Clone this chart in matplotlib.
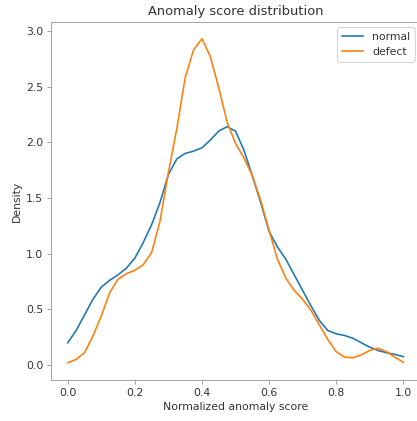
import matplotlib

matplotlib.use("Agg")
import matplotlib.pyplot as plt
import numpy as np

score = np.linspace(0.0, 1.0, 41)
normal = [
    0.20, 0.31, 0.45, 0.59, 0.70, 0.76, 0.81, 0.87, 0.96, 1.10,
    1.26, 1.46, 1.71, 1.85, 1.90, 1.92, 1.95, 2.02, 2.10, 2.14,
    2.10, 1.93, 1.70, 1.46, 1.20, 1.06, 0.95, 0.81, 0.67, 0.53,
    0.40, 0.31, 0.28, 0.265, 0.24, 0.20, 0.16, 0.13, 0.11, 0.095,
    0.075,
]
defect = [
    0.02, 0.05, 0.11, 0.26, 0.44, 0.65, 0.77, 0.82, 0.85, 0.90,
    1.01, 1.29, 1.73, 2.12, 2.58, 2.83, 2.93, 2.77, 2.49, 2.18,
    1.99, 1.86, 1.70, 1.48, 1.21, 0.95, 0.78, 0.67, 0.59, 0.49,
    0.36, 0.23, 0.12, 0.07, 0.065, 0.09, 0.13, 0.15, 0.12, 0.07,
    0.025,
]

W, H = 418, 421
DPI = 78.2  # reference looks like a slightly upscaled 72 dpi notebook figure
fig = plt.figure(figsize=(W / DPI, H / DPI), dpi=DPI)
ax = fig.add_axes([51 / W, 41 / H, 369 / W, 358 / H])

ax.plot(score, normal, color="tab:blue", lw=1.5, label="normal")
ax.plot(score, defect, color="tab:orange", lw=1.5, label="defect")

ax.set_xlim(-0.05, 1.05)
ax.set_ylim(-0.135, 3.08)
ax.set_xticks([0.0, 0.2, 0.4, 0.6, 0.8, 1.0])
ax.set_yticks([0.0, 0.5, 1.0, 1.5, 2.0, 2.5, 3.0])

grey = "#999999"
for s in ax.spines.values():
    s.set_color(grey)
ax.tick_params(colors=grey, labelcolor="#333333")
ax.set_title("Anomaly score distribution", color="#333333")
ax.set_xlabel("Normalized anomaly score", color="#333333")
ax.set_ylabel("Density", color="#333333")
leg = ax.legend(loc="upper right")
for t in leg.get_texts():
    t.set_color("#333333")

fig.savefig("out.png", dpi=DPI)
